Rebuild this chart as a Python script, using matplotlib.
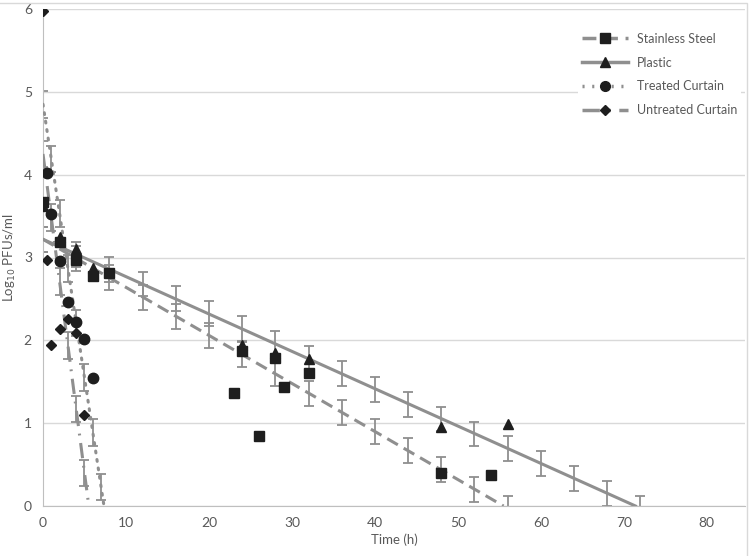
import numpy as np
import matplotlib.pyplot as plt
from matplotlib.lines import Line2D
from matplotlib.patches import Rectangle

plt.rcParams['font.family'] = ['Lato', 'DejaVu Sans']

# measured points (time in h, log10 PFUs/ml)
steel_t = [0, 2, 4, 6, 8, 23, 24, 26, 28, 29, 32, 48, 54]
steel_y = [3.67, 3.19, 2.97, 2.78, 2.81, 1.37, 1.87, 0.85, 1.79, 1.44, 1.60, 0.40, 0.37]
plastic_t = [0, 2, 4, 6, 24, 28, 32, 48, 56]
plastic_y = [3.62, 3.25, 3.10, 2.87, 1.94, 1.85, 1.77, 0.95, 0.99]
treated_t = [0.5, 1, 2, 3, 4, 5, 6]
treated_y = [4.02, 3.53, 2.96, 2.46, 2.22, 2.02, 1.54]
untreated_t = [0, 0.5, 1, 2, 3, 4, 5]
untreated_y = [5.98, 2.97, 1.94, 2.14, 2.26, 2.09, 1.10]

# fitted decay lines (start / end)
steel_fit_t = [0, 55.5]
steel_fit_y = [3.22, 0.0]
plastic_fit_t = [0, 71.4]
plastic_fit_y = [3.22, 0.0]
treated_fit_t = [0, 7.35]
treated_fit_y = [4.85, 0.0]
untreated_fit_t = [0, 5.52]
untreated_fit_y = [4.25, 0.0]

# error bars placed along the fitted lines
steel_eb_t = [0, 4, 8, 12, 16, 20, 24, 28, 32, 36, 40, 44, 48, 52, 56]
steel_eb_y = [3.22, 2.99, 2.76, 2.52, 2.29, 2.06, 1.83, 1.60, 1.36, 1.13, 0.90, 0.67, 0.44, 0.20, -0.03]
plastic_eb_t = [0, 4, 8, 12, 16, 20, 24, 28, 32, 36, 40, 44, 48, 52, 56, 60, 64, 68, 72]
plastic_eb_y = [3.22, 3.04, 2.86, 2.68, 2.50, 2.32, 2.14, 1.96, 1.78, 1.60, 1.41, 1.23, 1.05, 0.87, 0.69, 0.51, 0.33, 0.15, -0.03]
treated_eb_t = [0, 1, 2, 3, 4, 5, 6, 7]
treated_eb_y = [4.85, 4.19, 3.53, 2.87, 2.21, 1.55, 0.89, 0.23]
untreated_eb_t = [0, 1, 2, 3, 4, 5]
untreated_eb_y = [4.25, 3.48, 2.71, 1.94, 1.17, 0.40]
err_main = 0.15
err_curtain = 0.16

line_c = '#8f8f8f'
mark_c = '#1e1e1e'
text_c = '#595959'

fig = plt.figure(figsize=(7.49, 5.56), dpi=100)
ax = fig.add_axes([43/749, 1-506/556, (745-43)/749, (506-9)/556])

eb = dict(fmt='none', ecolor=line_c, elinewidth=1.3, capsize=3.5, capthick=1.3, zorder=2)
ax.errorbar(steel_eb_t, steel_eb_y, yerr=err_main, **eb)
ax.errorbar(plastic_eb_t, plastic_eb_y, yerr=err_main, **eb)
ax.errorbar(treated_eb_t, treated_eb_y, yerr=err_curtain, **eb)
ax.errorbar(untreated_eb_t, untreated_eb_y, yerr=err_curtain, **eb)

dash_s = (0, (4, 2.2))
dot_s = (0, (0.6, 2.2))
dashdot_s = (0, (5, 2.5, 0.6, 2.5))
ax.plot(steel_fit_t, steel_fit_y, color=line_c, lw=2.2, linestyle=dash_s, zorder=3)
ax.plot(plastic_fit_t, plastic_fit_y, color=line_c, lw=2.2, zorder=3)
ax.plot(treated_fit_t, treated_fit_y, color=line_c, lw=2.2, linestyle=dot_s, dash_capstyle='round', zorder=3)
ax.plot(untreated_fit_t, untreated_fit_y, color=line_c, lw=2.2, linestyle=dashdot_s, zorder=3)

ax.plot(steel_t, steel_y, 's', color=mark_c, ms=7, zorder=5)
ax.plot(plastic_t, plastic_y, '^', color=mark_c, ms=7.5, zorder=4)
ax.plot(treated_t, treated_y, 'o', color=mark_c, ms=7.5, zorder=4)
ax.plot(untreated_t, untreated_y, 'D', color=mark_c, ms=5, zorder=4)

ax.set_xlim(0, 84.6)
ax.set_ylim(0, 6)
ax.set_xticks(np.arange(0, 81, 10))
ax.set_yticks(np.arange(0, 7, 1))
ax.yaxis.grid(True, color='#d9d9d9', lw=1)
ax.set_axisbelow(True)
for s in ['top', 'right']:
    ax.spines[s].set_visible(False)
for s in ['left', 'bottom']:
    ax.spines[s].set_color('#bfbfbf')
ax.tick_params(length=0, labelsize=10, colors=text_c, pad=8)
ax.set_xlabel('Time (h)', fontsize=9.5, color=text_c, labelpad=3)
ax.set_ylabel('Log$_{10}$ PFUs/ml', fontsize=9.5, color=text_c, labelpad=4)

handles = [
    Line2D([], [], color=line_c, lw=2.5, linestyle=dash_s, marker='s', mfc=mark_c, mec=mark_c, ms=7),
    Line2D([], [], color=line_c, lw=2.5, marker='^', mfc=mark_c, mec=mark_c, ms=7),
    Line2D([], [], color=line_c, lw=2.5, linestyle=dot_s, marker='o', mfc=mark_c, mec=mark_c, ms=7),
    Line2D([], [], color=line_c, lw=2.5, linestyle=dashdot_s, marker='D', mfc=mark_c, mec=mark_c, ms=5),
]
labels = ['Stainless Steel', 'Plastic', 'Treated Curtain', 'Untreated Curtain']
leg = ax.legend(handles, labels, loc='upper left', bbox_to_anchor=(0.762, 0.96), frameon=True,
                facecolor='white', edgecolor='none', framealpha=1, fontsize=9,
                handlelength=3.7, handletextpad=0.7, labelspacing=0.95, borderpad=0.3,
                borderaxespad=0)
for t in leg.get_texts():
    t.set_color(text_c)

fig.patches.append(Rectangle((-0.01, -0.01), 747/749 + 0.01, 553/556 + 0.01, transform=fig.transFigure,
                             fill=False, edgecolor='#d9d9d9', lw=1))

fig.savefig('out.png', dpi=100)
